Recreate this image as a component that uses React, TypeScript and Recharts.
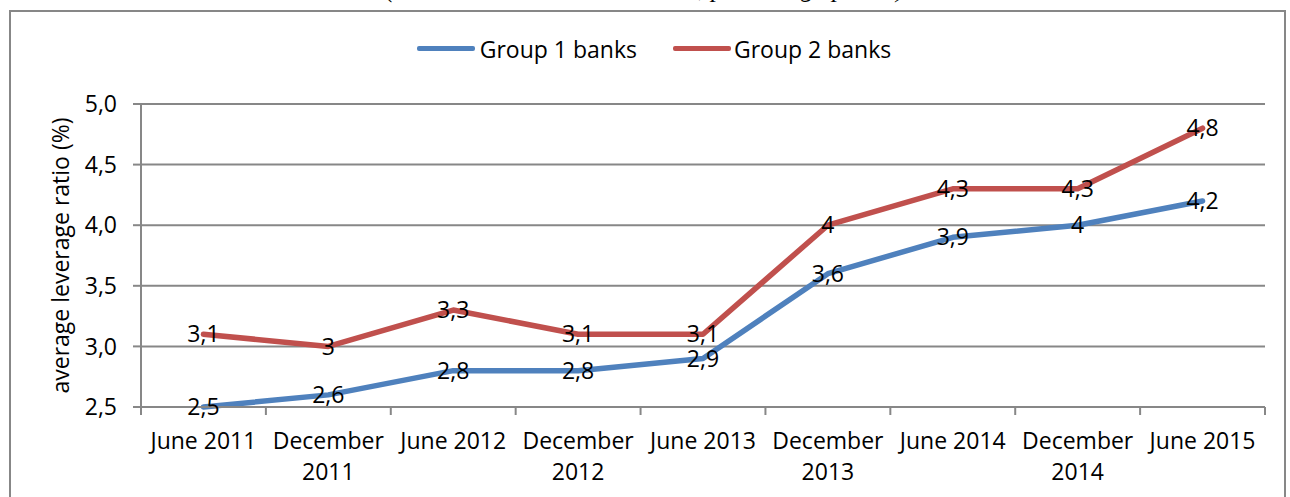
import { LineChart, Line, XAxis, YAxis, CartesianGrid, Legend, LabelList, Label } from 'recharts';

const periods = [
  'June 2011',
  'December 2011',
  'June 2012',
  'December 2012',
  'June 2013',
  'December 2013',
  'June 2014',
  'December 2014',
  'June 2015',
];
const group1 = [2.5, 2.6, 2.8, 2.8, 2.9, 3.6, 3.9, 4.0, 4.2];
const group2 = [3.1, 3.0, 3.3, 3.1, 3.1, 4.0, 4.3, 4.3, 4.8];
const yTicks = [2.5, 3.0, 3.5, 4.0, 4.5, 5.0];

const data = periods.map((p, i) => ({ period: p, g1: group1[i], g2: group2[i] }));

const W = 1290;
const H = 497;
const LEFT = 141;
const RIGHT = 25;
const LEGEND_H = 29;
const GRID = '#878787';
const FONT = '"Open Sans", sans-serif';
const FS = 23;
const HALF_BAND = (W - LEFT - RIGHT) / periods.length / 2;

const comma = (v: number) => String(v).replace('.', ',');

// x ticks sit between categories, labels stay centred under the points
const XTick = (props: any) => {
  const { x, y, payload, index } = props;
  const text: string = payload.value;
  const cut = text.lastIndexOf(' ');
  const lines = text.length > 9 ? [text.slice(0, cut), text.slice(cut + 1)] : [text];
  return (
    <g>
      <line x1={x - HALF_BAND} x2={x - HALF_BAND} y1={y - 8} y2={y} stroke={GRID} strokeWidth={2} />
      {index === periods.length - 1 && (
        <line x1={x + HALF_BAND} x2={x + HALF_BAND} y1={y - 8} y2={y} stroke={GRID} strokeWidth={2} />
      )}
      {lines.map((l, i) => (
        <text key={i} x={x} y={y + 34 + i * 31} textAnchor="middle" fill="#000" fontSize={FS} fontFamily={FONT}>
          {l}
        </text>
      ))}
    </g>
  );
};

const YLabel = (props: any) => {
  const vb = props.viewBox;
  const cy = vb.y + vb.height / 2;
  return (
    <text
      x={60}
      y={cy}
      transform={`rotate(-90, 60, ${cy})`}
      textAnchor="middle"
      dominantBaseline="central"
      fontSize={FS}
      fontFamily={FONT}
      fill="#000"
    >
      average leverage ratio (%)
    </text>
  );
};

const LegendContent = () => (
  <div style={{ display: 'flex', justifyContent: 'center', alignItems: 'center', height: LEGEND_H, paddingLeft: 18, fontFamily: FONT, fontSize: FS, color: '#000' }}>
    <span style={{ display: 'inline-block', width: 58, height: 5, background: '#4F81BD', borderRadius: 2, marginRight: 5 }} />
    <span style={{ marginRight: 36 }}>Group 1 banks</span>
    <span style={{ display: 'inline-block', width: 58, height: 5, background: '#C0504D', borderRadius: 2, marginRight: 3 }} />
    <span>Group 2 banks</span>
  </div>
);

export default function App() {
  return (
    <div style={{ position: 'absolute', left: 0, top: 0, width: W, height: H, overflow: 'hidden', background: '#fff' }}>
      <div
        style={{
          position: 'absolute',
          left: 0,
          width: W,
          textAlign: 'center',
          top: -26,
          fontFamily: '"Liberation Serif", serif',
          fontStyle: 'italic',
          fontSize: 26,
          whiteSpace: 'nowrap',
          color: '#000',
        }}
      >
        (30 June 2011 – 30 June 2015, percentage points)
      </div>
      <div
        style={{
          position: 'absolute',
          left: 9,
          top: 10,
          width: W - 13,
          height: H + 20,
          border: `2px solid ${GRID}`,
          boxSizing: 'border-box',
        }}
      />
      <div style={{ position: 'absolute', left: 0, top: 0 }}>
        <LineChart width={W} height={H} data={data} margin={{ top: 104 - LEGEND_H, right: RIGHT, bottom: 0, left: 0 }}>
          <CartesianGrid horizontal vertical={false} stroke={GRID} strokeWidth={2} />
          <XAxis
            dataKey="period"
            height={90}
            interval={0}
            padding={{ left: HALF_BAND, right: HALF_BAND }}
            tickLine={false}
            tickSize={8}
            tickMargin={0}
            axisLine={{ stroke: GRID, strokeWidth: 2 }}
            tick={<XTick />}
          />
          <YAxis
            width={LEFT}
            domain={[2.5, 5]}
            ticks={yTicks}
            tickFormatter={(v: number) => v.toFixed(1).replace('.', ',')}
            tickSize={8}
            tickMargin={16}
            tickLine={{ stroke: GRID, strokeWidth: 2 }}
            axisLine={{ stroke: GRID, strokeWidth: 2 }}
            tick={{ fill: '#000', fontSize: FS, fontFamily: FONT }}
          >
            <Label content={<YLabel />} />
          </YAxis>
          <Legend verticalAlign="top" height={LEGEND_H} content={<LegendContent />} wrapperStyle={{ top: 34, left: 0, width: W }} />
          <Line
            dataKey="g1"
            name="Group 1 banks"
            stroke="#4F81BD"
            strokeWidth={5.5}
            strokeLinejoin="round"
            strokeLinecap="round"
            dot={false}
            isAnimationActive={false}
          >
            <LabelList dataKey="g1" position="center" formatter={(v: any) => comma(v)} fill="#000" fontSize={FS} fontFamily={FONT} />
          </Line>
          <Line
            dataKey="g2"
            name="Group 2 banks"
            stroke="#C0504D"
            strokeWidth={5.5}
            strokeLinejoin="round"
            strokeLinecap="round"
            dot={false}
            isAnimationActive={false}
          >
            <LabelList dataKey="g2" position="center" formatter={(v: any) => comma(v)} fill="#000" fontSize={FS} fontFamily={FONT} />
          </Line>
        </LineChart>
      </div>
    </div>
  );
}
